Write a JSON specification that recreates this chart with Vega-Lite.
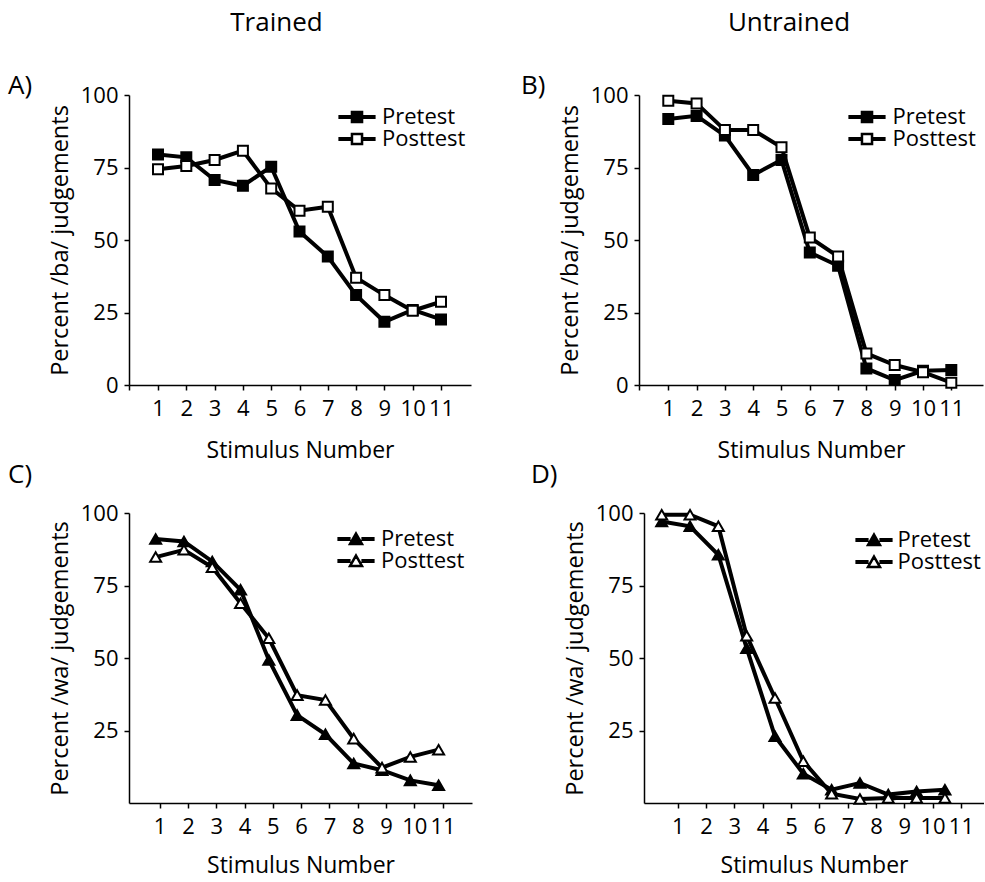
{
  "$schema": "https://vega.github.io/schema/vega-lite/v6.json",
  "background": "white",
  "padding": {"left": 8, "top": 10, "right": 0, "bottom": 5},
  "config": {
    "font": "Open Sans",
    "view": {"stroke": null},
    "axis": {
      "grid": false,
      "domainColor": "black",
      "domainWidth": 1.5,
      "tickColor": "black",
      "tickWidth": 1.5,
      "tickSize": 5,
      "labelFont": "Open Sans",
      "labelFontSize": 22,
      "labelColor": "black",
      "labelOverlap": false,
      "labelFlush": false,
      "labelBound": false,
      "titleFont": "Open Sans",
      "titleFontSize": 23,
      "titleFontWeight": "normal",
      "titleColor": "black"
    },
    "axisX": {"labelPadding": 8, "titlePadding": 20},
    "axisY": {"labelPadding": 6, "titlePadding": 8, "titleFontSize": 23.5},
    "title": {"font": "Open Sans", "fontWeight": "normal", "color": "black", "baseline": "alphabetic"},
    "legend": {
      "title": null,
      "orient": "none",
      "direction": "vertical",
      "padding": 0,
      "symbolSize": 144,
      "symbolStrokeColor": "black",
      "symbolStrokeWidth": 2.5,
      "labelFont": "Open Sans",
      "labelFontSize": 22,
      "labelColor": "black"
    }
  },
  "datasets": {
    "ba_trained": [
      {"stimulus": 1, "test": "Pretest", "percent": 79.5},
      {"stimulus": 2, "test": "Pretest", "percent": 78.5},
      {"stimulus": 3, "test": "Pretest", "percent": 70.7},
      {"stimulus": 4, "test": "Pretest", "percent": 68.7},
      {"stimulus": 5, "test": "Pretest", "percent": 75.3},
      {"stimulus": 6, "test": "Pretest", "percent": 52.9},
      {"stimulus": 7, "test": "Pretest", "percent": 44.3},
      {"stimulus": 8, "test": "Pretest", "percent": 31.0},
      {"stimulus": 9, "test": "Pretest", "percent": 21.8},
      {"stimulus": 10, "test": "Pretest", "percent": 25.9},
      {"stimulus": 11, "test": "Pretest", "percent": 22.6},
      {"stimulus": 1, "test": "Posttest", "percent": 74.4},
      {"stimulus": 2, "test": "Posttest", "percent": 75.5},
      {"stimulus": 3, "test": "Posttest", "percent": 77.6},
      {"stimulus": 4, "test": "Posttest", "percent": 80.8},
      {"stimulus": 5, "test": "Posttest", "percent": 67.8},
      {"stimulus": 6, "test": "Posttest", "percent": 60.1},
      {"stimulus": 7, "test": "Posttest", "percent": 61.5},
      {"stimulus": 8, "test": "Posttest", "percent": 37.0},
      {"stimulus": 9, "test": "Posttest", "percent": 31.0},
      {"stimulus": 10, "test": "Posttest", "percent": 25.6},
      {"stimulus": 11, "test": "Posttest", "percent": 28.7}
    ],
    "ba_untrained": [
      {"stimulus": 1, "test": "Pretest", "percent": 91.7},
      {"stimulus": 2, "test": "Pretest", "percent": 92.8},
      {"stimulus": 3, "test": "Pretest", "percent": 86.0},
      {"stimulus": 4, "test": "Pretest", "percent": 72.4},
      {"stimulus": 5, "test": "Pretest", "percent": 77.6},
      {"stimulus": 6, "test": "Pretest", "percent": 45.7},
      {"stimulus": 7, "test": "Pretest", "percent": 41.1},
      {"stimulus": 8, "test": "Pretest", "percent": 5.7},
      {"stimulus": 9, "test": "Pretest", "percent": 1.7},
      {"stimulus": 10, "test": "Pretest", "percent": 4.9},
      {"stimulus": 11, "test": "Pretest", "percent": 5.2},
      {"stimulus": 1, "test": "Posttest", "percent": 98.0},
      {"stimulus": 2, "test": "Posttest", "percent": 97.1},
      {"stimulus": 3, "test": "Posttest", "percent": 87.9},
      {"stimulus": 4, "test": "Posttest", "percent": 87.9},
      {"stimulus": 5, "test": "Posttest", "percent": 82.0},
      {"stimulus": 6, "test": "Posttest", "percent": 50.9},
      {"stimulus": 7, "test": "Posttest", "percent": 44.3},
      {"stimulus": 8, "test": "Posttest", "percent": 10.9},
      {"stimulus": 9, "test": "Posttest", "percent": 6.9},
      {"stimulus": 10, "test": "Posttest", "percent": 4.4},
      {"stimulus": 11, "test": "Posttest", "percent": 0.8}
    ],
    "wa_trained": [
      {"stimulus": 1, "test": "Pretest", "percent": 91.0},
      {"stimulus": 2, "test": "Pretest", "percent": 90.2},
      {"stimulus": 3, "test": "Pretest", "percent": 83.3},
      {"stimulus": 4, "test": "Pretest", "percent": 73.5},
      {"stimulus": 5, "test": "Pretest", "percent": 49.3},
      {"stimulus": 6, "test": "Pretest", "percent": 30.3},
      {"stimulus": 7, "test": "Pretest", "percent": 23.7},
      {"stimulus": 8, "test": "Pretest", "percent": 13.6},
      {"stimulus": 9, "test": "Pretest", "percent": 11.3},
      {"stimulus": 10, "test": "Pretest", "percent": 7.8},
      {"stimulus": 11, "test": "Pretest", "percent": 6.1},
      {"stimulus": 1, "test": "Posttest", "percent": 84.8},
      {"stimulus": 2, "test": "Posttest", "percent": 87.3},
      {"stimulus": 3, "test": "Posttest", "percent": 81.3},
      {"stimulus": 4, "test": "Posttest", "percent": 68.9},
      {"stimulus": 5, "test": "Posttest", "percent": 56.8},
      {"stimulus": 6, "test": "Posttest", "percent": 37.2},
      {"stimulus": 7, "test": "Posttest", "percent": 35.5},
      {"stimulus": 8, "test": "Posttest", "percent": 22.2},
      {"stimulus": 9, "test": "Posttest", "percent": 12.2},
      {"stimulus": 10, "test": "Posttest", "percent": 15.9},
      {"stimulus": 11, "test": "Posttest", "percent": 18.4}
    ],
    "wa_untrained": [
      {"stimulus": 1, "test": "Pretest", "percent": 97.1},
      {"stimulus": 2, "test": "Pretest", "percent": 95.4},
      {"stimulus": 3, "test": "Pretest", "percent": 85.6},
      {"stimulus": 4, "test": "Pretest", "percent": 53.4},
      {"stimulus": 5, "test": "Pretest", "percent": 23.0},
      {"stimulus": 6, "test": "Pretest", "percent": 10.1},
      {"stimulus": 7, "test": "Pretest", "percent": 4.6},
      {"stimulus": 8, "test": "Pretest", "percent": 6.9},
      {"stimulus": 9, "test": "Pretest", "percent": 2.9},
      {"stimulus": 10, "test": "Pretest", "percent": 4.0},
      {"stimulus": 11, "test": "Pretest", "percent": 4.6},
      {"stimulus": 1, "test": "Posttest", "percent": 99.4},
      {"stimulus": 2, "test": "Posttest", "percent": 99.4},
      {"stimulus": 3, "test": "Posttest", "percent": 95.4},
      {"stimulus": 4, "test": "Posttest", "percent": 57.7},
      {"stimulus": 5, "test": "Posttest", "percent": 36.2},
      {"stimulus": 6, "test": "Posttest", "percent": 14.4},
      {"stimulus": 7, "test": "Posttest", "percent": 3.2},
      {"stimulus": 8, "test": "Posttest", "percent": 1.4},
      {"stimulus": 9, "test": "Posttest", "percent": 1.7},
      {"stimulus": 10, "test": "Posttest", "percent": 1.7},
      {"stimulus": 11, "test": "Posttest", "percent": 1.7}
    ]
  },
  "resolve": {"scale": {"fill": "independent", "x": "independent", "y": "independent"}, "legend": {"fill": "independent"}},
  "spacing": 0,
  "vconcat": [
    {
      "resolve": {"scale": {"fill": "independent"}, "legend": {"fill": "independent"}},
      "spacing": 50,
      "hconcat": [
        {
          "title": {"text": "Trained", "fontSize": 26, "anchor": "middle", "dx": 37, "offset": 37},
          "resolve": {"scale": {"fill": "independent"}, "legend": {"fill": "independent"}},
          "vconcat": [
            {
              "title": {"text": "A)", "fontSize": 26, "anchor": "start", "frame": "group", "dx": -121, "offset": -15},
              "width": 342,
              "height": 290,
              "data": {"name": "ba_trained"},
              "encoding": {
                "x": {"field": "stimulus", "type": "quantitative",
                      "scale": {"domain": [-0.025, 12.06], "nice": false, "zero": false},
                      "axis": {"values": [-0.025, 1, 2, 3, 4, 5, 6, 7, 8, 9, 10, 11], "format": "d",
                               "labelExpr": "datum.value < 0.5 ? '' : datum.label", "title": "Stimulus Number"}},
                "y": {"field": "percent", "type": "quantitative",
                      "scale": {"domain": [0, 100], "nice": false},
                      "axis": {"values": [0, 25, 50, 75, 100], "title": "Percent /ba/ judgements"}}
              },
              "layer": [
                {"mark": {"type": "line", "stroke": "black", "strokeWidth": 4},
                 "encoding": {"detail": {"field": "test", "type": "nominal"}}},
                {"mark": {"type": "point", "shape": "square", "filled": true, "size": 100, "stroke": "black", "strokeWidth": 2, "opacity": 1},
                 "encoding": {"fill": {"field": "test", "type": "nominal",
                   "scale": {"domain": ["Pretest", "Posttest"], "range": ["black", "white"]},
                   "legend": {"legendX": 217, "legendY": 11, "rowPadding": 0, "labelOffset": 14,
                     "symbolType": "M-3.1,-0.14H-0.84M-3.1,0.14H-0.84M0.84,-0.14H3.1M0.84,0.14H3.1M-0.84,-0.84H0.84V0.84H-0.84Z"}}}}
              ]
            }
          ]
        },
        {
          "title": {"text": "Untrained", "fontSize": 26, "anchor": "middle", "dx": 37, "offset": 37},
          "resolve": {"scale": {"fill": "independent"}, "legend": {"fill": "independent"}},
          "vconcat": [
            {
              "title": {"text": "B)", "fontSize": 26, "anchor": "start", "frame": "group", "dx": -118, "offset": -15},
              "width": 344,
              "height": 290,
              "data": {"name": "ba_untrained"},
              "encoding": {
                "x": {"field": "stimulus", "type": "quantitative",
                      "scale": {"domain": [-0.035, 12.12], "nice": false, "zero": false},
                      "axis": {"values": [-0.035, 1, 2, 3, 4, 5, 6, 7, 8, 9, 10, 11], "format": "d",
                               "labelExpr": "datum.value < 0.5 ? '' : datum.label", "title": "Stimulus Number"}},
                "y": {"field": "percent", "type": "quantitative",
                      "scale": {"domain": [0, 100], "nice": false},
                      "axis": {"values": [0, 25, 50, 75, 100], "title": "Percent /ba/ judgements"}}
              },
              "layer": [
                {"mark": {"type": "line", "stroke": "black", "strokeWidth": 4},
                 "encoding": {"detail": {"field": "test", "type": "nominal"}}},
                {"mark": {"type": "point", "shape": "square", "filled": true, "size": 100, "stroke": "black", "strokeWidth": 2, "opacity": 1},
                 "encoding": {"fill": {"field": "test", "type": "nominal",
                   "scale": {"domain": ["Pretest", "Posttest"], "range": ["black", "white"]},
                   "legend": {"legendX": 217, "legendY": 11, "rowPadding": 0, "labelOffset": 14.5,
                     "symbolType": "M-3.1,-0.14H-0.84M-3.1,0.14H-0.84M0.84,-0.14H3.1M0.84,0.14H3.1M-0.84,-0.84H0.84V0.84H-0.84Z"}}}}
              ]
            }
          ]
        }
      ]
    },
    {
      "resolve": {"scale": {"fill": "independent"}, "legend": {"fill": "independent"}},
      "spacing": 59,
      "hconcat": [
        {
          "title": {"text": "C)", "fontSize": 26, "anchor": "start", "frame": "group", "dx": -121, "offset": 14},
          "width": 343,
          "height": 290,
          "data": {"name": "wa_trained"},
          "encoding": {
            "x": {"field": "stimulus", "type": "quantitative",
                  "scale": {"domain": [0.058, 12.18], "nice": false, "zero": false},
                  "axis": {"values": [1, 2, 3, 4, 5, 6, 7, 8, 9, 10, 11], "format": "d", "tickOffset": 4,
                           "titlePadding": 17, "title": "Stimulus Number"}},
            "y": {"field": "percent", "type": "quantitative",
                  "scale": {"domain": [0, 100], "nice": false},
                  "axis": {"values": [25, 50, 75, 100], "title": "Percent /wa/ judgements"}}
          },
          "layer": [
            {"mark": {"type": "line", "stroke": "black", "strokeWidth": 4},
             "encoding": {"detail": {"field": "test", "type": "nominal"}}},
            {"mark": {"type": "point", "shape": "triangle-up", "filled": true, "size": 121, "stroke": "black", "strokeWidth": 2, "opacity": 1},
             "encoding": {"fill": {"field": "test", "type": "nominal",
               "scale": {"domain": ["Pretest", "Posttest"], "range": ["black", "white"]},
               "legend": {"legendX": 216, "legendY": 15, "rowPadding": -5, "labelOffset": 14,
                 "symbolType": "M-3.1,-0.14H-0.9M-3.1,0.14H-0.9M0.9,-0.14H3.1M0.9,0.14H3.1M0,-0.9L1,0.84L-1,0.84Z"}}}}
          ]
        },
        {
          "title": {"text": "D)", "fontSize": 26, "anchor": "start", "frame": "group", "dx": -113, "offset": 14},
          "width": 340,
          "height": 290,
          "data": {"name": "wa_untrained"},
          "encoding": {
            "x": {"field": "stimulus", "type": "quantitative",
                  "scale": {"domain": [0.375, 12.38], "nice": false, "zero": false},
                  "axis": {"values": [1, 2, 3, 4, 5, 6, 7, 8, 9, 10, 11], "format": "d", "tickOffset": 16,
                           "titlePadding": 17, "title": "Stimulus Number"}},
            "y": {"field": "percent", "type": "quantitative",
                  "scale": {"domain": [0, 100], "nice": false},
                  "axis": {"values": [25, 50, 75, 100], "title": "Percent /wa/ judgements"}}
          },
          "layer": [
            {"mark": {"type": "line", "stroke": "black", "strokeWidth": 4},
             "encoding": {"detail": {"field": "test", "type": "nominal"}}},
            {"mark": {"type": "point", "shape": "triangle-up", "filled": true, "size": 121, "stroke": "black", "strokeWidth": 2, "opacity": 1},
             "encoding": {"fill": {"field": "test", "type": "nominal",
               "scale": {"domain": ["Pretest", "Posttest"], "range": ["black", "white"]},
               "legend": {"legendX": 219, "legendY": 16, "rowPadding": -5, "labelOffset": 12.5,
                 "symbolType": "M-3.1,-0.14H-0.9M-3.1,0.14H-0.9M0.9,-0.14H3.1M0.9,0.14H3.1M0,-0.9L1,0.84L-1,0.84Z"}}}}
          ]
        }
      ]
    }
  ]
}
